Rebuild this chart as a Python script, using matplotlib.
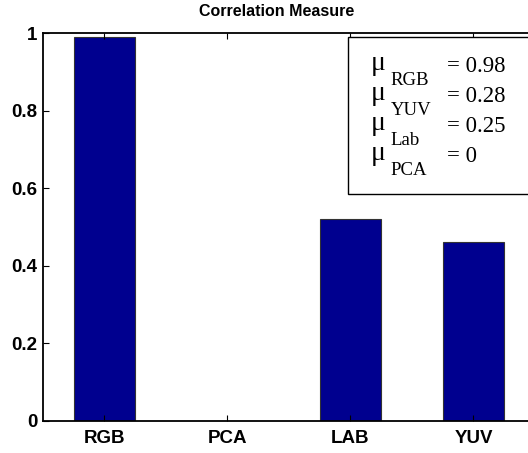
import numpy as np
import matplotlib.pyplot as plt
from matplotlib.patches import Rectangle

plt.rcParams['font.family'] = ['Liberation Sans', 'DejaVu Sans']

# correlation per colour space
spaces = ['RGB', 'PCA', 'LAB', 'YUV']
corr = [0.99, 0.0, 0.52, 0.46]

# mean values shown in the box
mu_names = ['RGB', 'YUV', 'Lab', 'PCA']
mu_vals = ['0.98', '0.28', '0.25', '0']

W, H = 528, 453
fig = plt.figure(figsize=(W / 100, H / 100), dpi=100)
# axes runs a little past the right edge, like the original figure
ax = fig.add_axes([43.3 / W, 1 - 420.7 / H, (535 - 43.3) / W, (420.7 - 33.3) / H])

x = np.arange(1, len(spaces) + 1)
ax.bar(x, corr, width=0.5, color='#00008F', edgecolor='#333333', linewidth=0.8)

ax.set_xlim(0.504, 4.5)
ax.set_ylim(0, 1)
ax.set_xticks(x)
ax.set_xticklabels(spaces, fontweight='bold', fontsize=13.5)
ax.set_yticks([0, 0.2, 0.4, 0.6, 0.8, 1])
ax.set_yticklabels(['0', '0.2', '0.4', '0.6', '0.8', '1'], fontweight='bold', fontsize=13.5)
ax.tick_params(direction='in', length=4, width=0.8, top=True, right=True)
ax.tick_params(axis='x', pad=7)
ax.tick_params(axis='y', pad=4)
for s in ax.spines.values():
    s.set_linewidth(1.3)

fig.text(277 / W, 1 - 12 / H, 'Correlation Measure', ha='center', va='center',
         fontweight='bold', fontsize=11.5)

# box with the means
fig.patches.append(Rectangle((348.3 / W, 1 - 194.3 / H), (560 - 348.3) / W, (194.3 - 37.3) / H,
                             transform=fig.transFigure, facecolor='white',
                             edgecolor='black', linewidth=1.0, zorder=5))
serif = 'Liberation Serif'
for i, (n, v) in enumerate(zip(mu_names, mu_vals)):
    base = 71.7 + 30 * i
    fig.text(371 / W, 1 - (base - 2) / H, '\u03bc', ha='left', va='baseline',
             family=serif, fontsize=20, zorder=6)
    fig.text(390.5 / W, 1 - (base + 13) / H, n, ha='left', va='baseline',
             family=serif, fontsize=13.5, zorder=6)
    fig.text(446.7 / W, 1 - base / H, '= ' + v, ha='left', va='baseline',
             family=serif, fontsize=16.4, zorder=6)

fig.savefig('out.png', dpi=100)
